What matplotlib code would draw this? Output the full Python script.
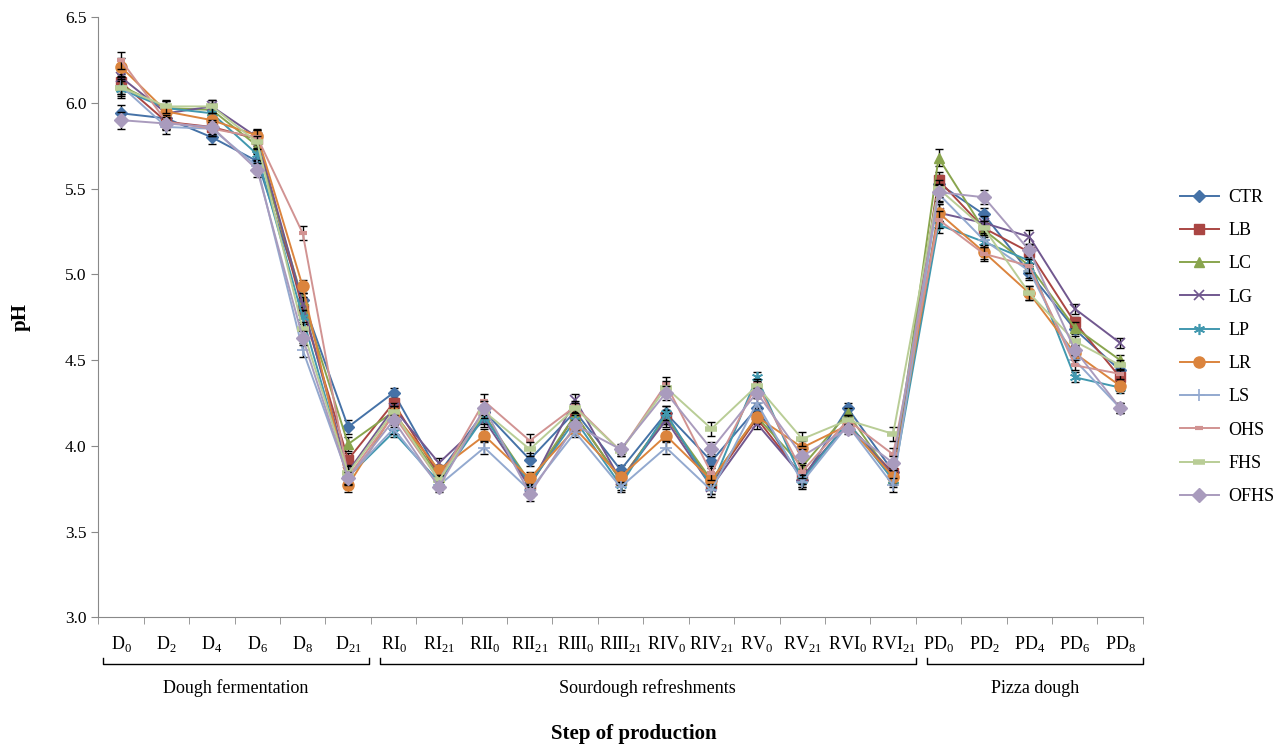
import matplotlib
matplotlib.use("Agg")
import matplotlib.pyplot as plt
import matplotlib.transforms as mtransforms

plt.rcParams['font.family'] = ['Liberation Serif', 'DejaVu Serif']
plt.rcParams['mathtext.fontset'] = 'custom'
plt.rcParams['mathtext.rm'] = 'Liberation Serif'

# ---------------------------------------------------------------------------
# data
# ---------------------------------------------------------------------------
labels = [r'D$_\mathregular{0}$', r'D$_\mathregular{2}$', r'D$_\mathregular{4}$',
          r'D$_\mathregular{6}$', r'D$_\mathregular{8}$', r'D$_\mathregular{21}$',
          r'RI$_\mathregular{0}$', r'RI$_\mathregular{21}$', r'RII$_\mathregular{0}$',
          r'RII$_\mathregular{21}$', r'RIII$_\mathregular{0}$', r'RIII$_\mathregular{21}$',
          r'RIV$_\mathregular{0}$', r'RIV$_\mathregular{21}$', r'RV$_\mathregular{0}$',
          r'RV$_\mathregular{21}$', r'RVI$_\mathregular{0}$', r'RVI$_\mathregular{21}$',
          r'PD$_\mathregular{0}$', r'PD$_\mathregular{2}$', r'PD$_\mathregular{4}$',
          r'PD$_\mathregular{6}$', r'PD$_\mathregular{8}$']

CTR = [5.94, 5.91, 5.80, 5.66, 4.85, 4.11, 4.31, 3.84, 4.20, 3.92, 4.20, 3.86,
       4.19, 3.91, 4.22, 3.80, 4.22, 3.85, 5.53, 5.35, 5.01, 4.68, 4.44]
LB = [6.12, 5.89, 5.86, 5.79, 4.80, 3.92, 4.25, 3.83, 4.18, 3.77, 4.18, 3.80,
      4.17, 3.78, 4.16, 3.82, 4.13, 3.84, 5.55, 5.27, 5.13, 4.72, 4.40]
LC = [6.10, 5.97, 5.96, 5.75, 4.85, 4.01, 4.20, 3.82, 4.18, 3.79, 4.18, 3.80,
      4.17, 3.80, 4.17, 3.88, 4.19, 3.81, 5.68, 5.26, 5.05, 4.69, 4.50]
LG = [6.15, 5.94, 5.98, 5.80, 4.83, 3.85, 4.22, 3.90, 4.15, 3.76, 4.27, 3.80,
      4.15, 3.76, 4.13, 3.82, 4.13, 3.83, 5.36, 5.30, 5.22, 4.80, 4.60]
LP = [6.08, 5.97, 5.94, 5.70, 4.75, 3.82, 4.08, 3.79, 4.17, 3.78, 4.15, 3.77,
      4.19, 3.76, 4.40, 3.80, 4.14, 3.80, 5.29, 5.19, 5.08, 4.40, 4.34]
LR = [6.21, 5.95, 5.90, 5.81, 4.93, 3.77, 4.19, 3.86, 4.06, 3.81, 4.10, 3.82,
      4.06, 3.80, 4.17, 3.99, 4.12, 3.82, 5.36, 5.13, 4.89, 4.54, 4.35]
LS = [6.10, 5.86, 5.85, 5.63, 4.56, 3.82, 4.10, 3.77, 3.99, 3.74, 4.08, 3.76,
      3.99, 3.74, 4.25, 3.79, 4.12, 3.77, 5.47, 5.20, 5.02, 4.50, 4.22]
OHS = [6.25, 5.89, 5.85, 5.80, 5.24, 3.82, 4.18, 3.80, 4.26, 4.03, 4.23, 3.97,
       4.36, 3.84, 4.36, 3.85, 4.15, 3.95, 5.32, 5.12, 5.05, 4.47, 4.42]
FHS = [6.09, 5.98, 5.98, 5.77, 4.68, 3.84, 4.20, 3.80, 4.20, 3.98, 4.22, 3.97,
       4.34, 4.10, 4.35, 4.04, 4.15, 4.07, 5.50, 5.27, 4.89, 4.61, 4.47]
OFHS = [5.90, 5.88, 5.86, 5.61, 4.63, 3.81, 4.15, 3.76, 4.22, 3.72, 4.12, 3.98,
        4.31, 3.98, 4.31, 3.94, 4.10, 3.90, 5.48, 5.45, 5.14, 4.56, 4.22]

# standard deviation per step (approximate, read from error bar caps)
SD = [0.05, 0.04, 0.04, 0.04, 0.04, 0.04, 0.03, 0.03, 0.04, 0.04, 0.03, 0.03,
      0.04, 0.04, 0.03, 0.04, 0.03, 0.04, 0.05, 0.04, 0.04, 0.03, 0.03]

names = ['CTR', 'LB', 'LC', 'LG', 'LP', 'LR', 'LS', 'OHS', 'FHS', 'OFHS']
series = [CTR, LB, LC, LG, LP, LR, LS, OHS, FHS, OFHS]

groups = ['Dough fermentation', 'Sourdough refreshments', 'Pizza dough']
group_spans = [(-0.4, 5.45), (5.7, 17.5), (17.75, 22.5)]

# excel 2007 default palette
colors = ['#4572A7', '#AA4643', '#89A54E', '#71588F', '#4198AF',
          '#DB843D', '#93A9CF', '#D19392', '#B9CD96', '#A99BBD']
markers = ['D', 's', '^', 'x', (6, 2, 0), 'o', '+', '_', '_', 'D']
msizes = [6, 7, 7, 7, 8, 8, 9, 6, 8, 7]
mews = [1, 1, 1, 1.2, 1.2, 1, 1.2, 3, 4, 1]

# ---------------------------------------------------------------------------
fig = plt.figure(figsize=(12.77, 7.51), dpi=100)
ax = fig.add_axes([0.077, 0.178, 0.818, 0.799])

x = list(range(len(labels)))
handles = []
for name, vals, c, m, ms, mew in zip(names, series, colors, markers, msizes, mews):
    ax.errorbar(x, vals, yerr=SD, fmt='none', ecolor='black', elinewidth=1.0,
                capsize=3, capthick=1.0)
    h, = ax.plot(x, vals, color=c, marker=m, markersize=ms,
                 markeredgewidth=mew, markeredgecolor=c, linewidth=1.4,
                 label=name)
    handles.append(h)

ax.set_ylim(3.0, 6.5)
ax.set_xlim(-0.5, 22.5)
ax.set_yticks([3.0, 3.5, 4.0, 4.5, 5.0, 5.5, 6.0, 6.5])
ax.set_yticklabels(['%.1f' % v for v in ax.get_yticks()], fontsize=12.5)
ax.set_xticks(x)
ax.set_xticklabels(labels, fontsize=13)
ax.set_xticks([i - 0.5 for i in range(len(labels) + 1)], minor=True)
ax.tick_params(axis='x', which='major', length=0, pad=12)
ax.tick_params(axis='x', which='minor', length=5, color='#898989', direction='out')
ax.tick_params(axis='y', length=5, color='#898989', direction='out')

for side in ['top', 'right']:
    ax.spines[side].set_visible(False)
for side in ['left', 'bottom']:
    ax.spines[side].set_color('#898989')

fig.text(0.016, 0.578, 'pH', rotation=90, ha='center', va='center',
         fontsize=15, fontweight='bold')
fig.text(0.496, 0.022, 'Step of production', ha='center', va='center',
         fontsize=15, fontweight='bold')

# brackets under the step labels
trans = mtransforms.blended_transform_factory(ax.transData, ax.transAxes)
for g, (a, b) in zip(groups, group_spans):
    ax.plot([a, a, b, b], [-0.067, -0.078, -0.078, -0.067], color='black',
            linewidth=1.0, transform=trans, clip_on=False)
    ax.text((a + b) / 2, -0.118, g, transform=trans, ha='center', va='center',
            fontsize=13)

fig.legend(handles=handles, loc='center left', bbox_to_anchor=(0.918, 0.538),
           frameon=False, fontsize=13, handlelength=2.2, handletextpad=0.5,
           labelspacing=0.9, numpoints=1, borderaxespad=0)

fig.savefig('out.png', dpi=100)
